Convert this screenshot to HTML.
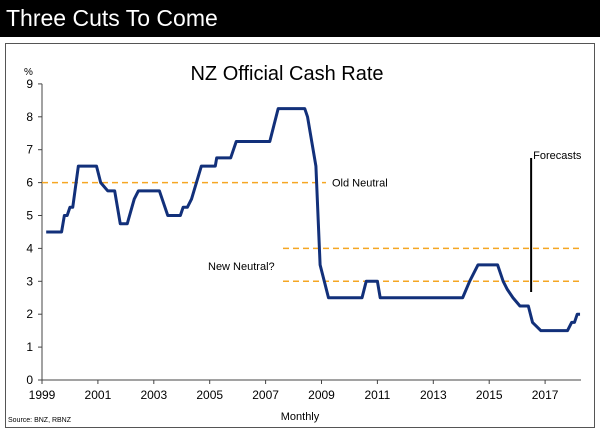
<!DOCTYPE html>
<html><head><meta charset="utf-8"><style>
body{margin:0;width:600px;height:433px;background:#fff;font-family:"Liberation Sans",Arial,sans-serif;overflow:hidden}
#hdr{position:absolute;left:0;top:0;width:600px;height:37px;background:#000;color:#fff;font-size:23px;line-height:37px;padding-left:6px;box-sizing:border-box}
#frame{position:absolute;left:5px;top:43px;width:590px;height:385px;border:1px solid #555;box-sizing:border-box}
</style></head><body>
<div id="hdr">Three Cuts To Come</div>
<div id="frame"></div>
<svg id="c" width="600" height="433" style="position:absolute;left:0;top:0"></svg>
<script>
const years=[1999.15,1999.7,1999.8,1999.9,2000.0,2000.1,2000.3,2000.95,2001.1,2001.35,2001.6,2001.7,2001.8,2002.05,2002.3,2002.45,2003.2,2003.3,2003.5,2003.95,2004.05,2004.2,2004.35,2004.7,2005.2,2005.25,2005.75,2005.85,2005.95,2007.15,2007.3,2007.45,2008.4,2008.5,2008.6,2008.8,2008.95,2009.1,2009.25,2010.45,2010.6,2011.0,2011.1,2014.05,2014.3,2014.6,2015.3,2015.5,2015.65,2015.85,2016.1,2016.4,2016.55,2016.85,2017.8,2017.95,2018.05,2018.15,2018.25];
const rates=[4.5,4.5,5.0,5.0,5.25,5.25,6.5,6.5,6.0,5.75,5.75,5.25,4.75,4.75,5.5,5.75,5.75,5.5,5.0,5.0,5.25,5.25,5.5,6.5,6.5,6.75,6.75,7.0,7.25,7.25,7.75,8.25,8.25,8.0,7.5,6.5,3.5,3.0,2.5,2.5,3.0,3.0,2.5,2.5,3.0,3.5,3.5,3.0,2.75,2.5,2.25,2.25,1.75,1.5,1.5,1.75,1.75,2.0,2.0];
const yTicks=[0,1,2,3,4,5,6,7,8,9];
const xTicks=[1999,2001,2003,2005,2007,2009,2011,2013,2015,2017];
const oldNeutral=6, newNeutral=[4,3], forecastStart=2016.5;
const NS='http://www.w3.org/2000/svg', svg=document.getElementById('c');
const X=y=>42+(y-1999)*27.95, Y=v=>380-v*32.9;
function mk(t,a,txt){const e=document.createElementNS(NS,t);for(const k in a)e.setAttribute(k,a[k]);if(txt!=null)e.textContent=txt;svg.appendChild(e);return e;}
let e;
e=mk('line',{x1:42,y1:Y(9),x2:42,y2:380,stroke:'#444','stroke-width':1});

e=mk('line',{x1:42,y1:380,x2:581,y2:380,stroke:'#444','stroke-width':1});

yTicks.forEach(v=>{mk('line',{x1:38,y1:Y(v),x2:42,y2:Y(v),stroke:'#444'});
e=mk('text',{x:33,y:Y(v)+4,'font-size':12,'text-anchor':'end'},v);
});
xTicks.forEach(v=>{mk('line',{x1:X(v),y1:380,x2:X(v),y2:384,stroke:'#444'});
e=mk('text',{x:X(v),y:399,'font-size':12,'text-anchor':'middle'},v);
});
e=mk('line',{x1:42,y1:Y(oldNeutral),x2:326,y2:Y(oldNeutral),stroke:'#f5a623','stroke-width':1.5,'stroke-dasharray':'6,4'});

newNeutral.forEach(v=>{e=mk('line',{x1:283,y1:Y(v),x2:581,y2:Y(v),stroke:'#f5a623','stroke-width':1.5,'stroke-dasharray':'6,4'});
});
e=mk('text',{x:332,y:Y(oldNeutral)+4,'font-size':11},'Old Neutral');

e=mk('text',{x:208,y:270,'font-size':11},'New Neutral?');

e=mk('line',{x1:X(forecastStart),y1:158,x2:X(forecastStart),y2:292,stroke:'#000','stroke-width':2});

e=mk('text',{x:X(forecastStart)+2,y:159,'font-size':11},'Forecasts');

e=mk('polyline',{points:years.map((y,i)=>X(y)+','+Y(rates[i])).join(' '),fill:'none',stroke:'#12307a','stroke-width':3,'stroke-linejoin':'round'});

e=mk('text',{x:287,y:80,'font-size':20,'text-anchor':'middle'},'NZ Official Cash Rate');

e=mk('text',{x:24,y:75,'font-size':10},'%');

e=mk('text',{x:300,y:420,'font-size':11,'text-anchor':'middle'},'Monthly');

e=mk('text',{x:8,y:422,'font-size':7},'Source: BNZ, RBNZ');

</script>
</body></html>
